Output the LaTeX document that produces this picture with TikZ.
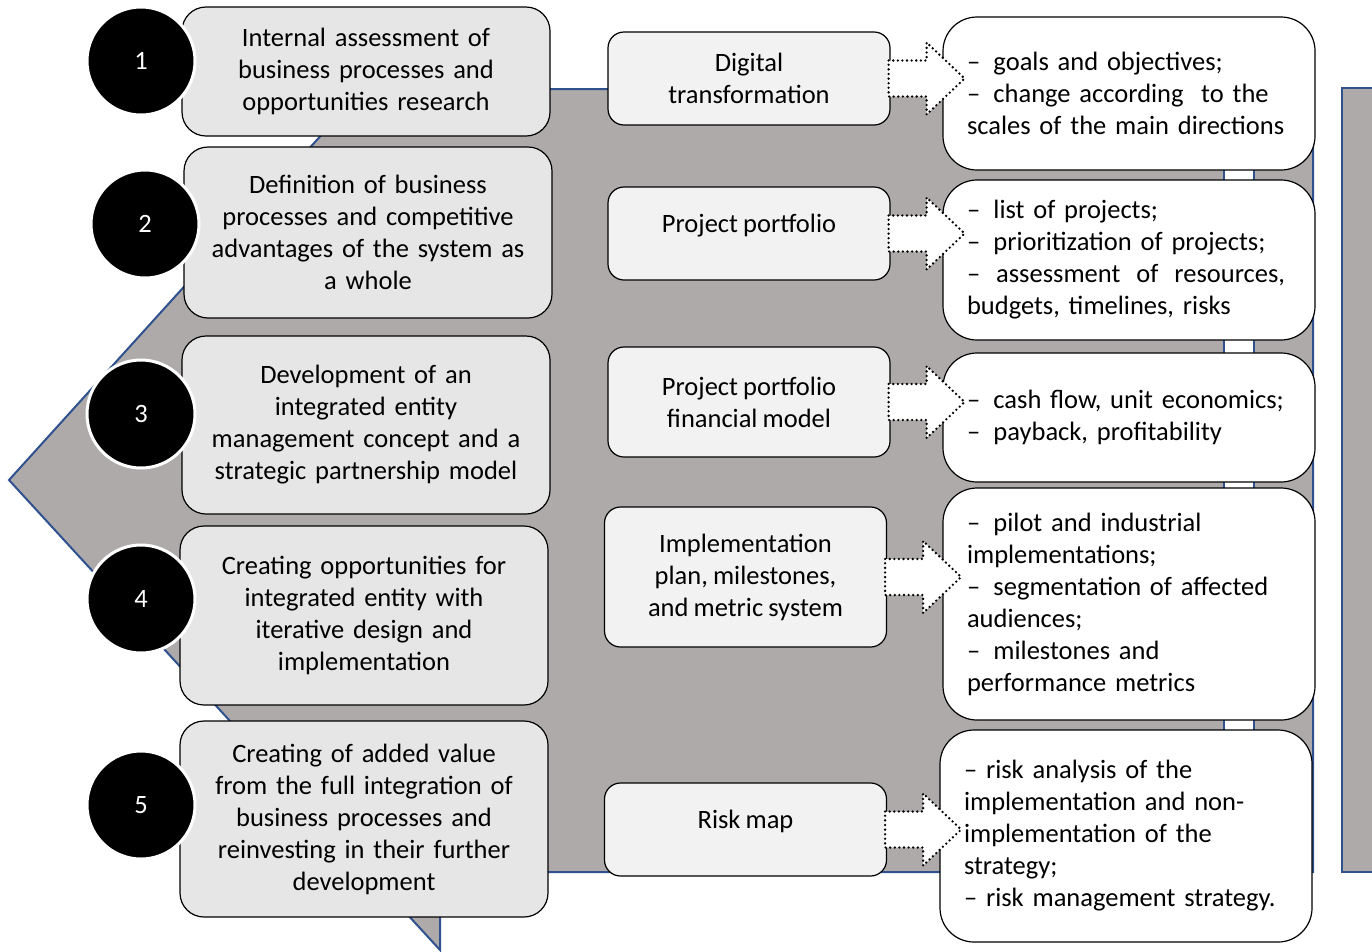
\documentclass[tikz,border=0pt]{standalone}
\usepackage{fontspec}
\setmainfont{Carlito}[WordSpace={0.85,1,2}]
\usetikzlibrary{positioning,calc}
\hyphenpenalty=10000

\definecolor{bggray}{HTML}{AEAAAA}
\definecolor{edgeblue}{HTML}{2F528F}
\definecolor{stagefill}{HTML}{E7E6E6}
\definecolor{toolfill}{HTML}{F2F2F2}

\tikzset{
  stage/.style={draw=black, fill=stagefill, rounded corners=24pt, line width=1.2pt,
    text width=330pt, inner xsep=19pt, inner ysep=0pt, align=center},
  num/.style={circle, fill=black, draw=white, line width=3pt, minimum size=108pt,
    inner sep=0pt, text=white},
  tool/.style={draw=black, fill=toolfill, rounded corners=16pt, line width=1.2pt,
    minimum width=282pt, inner sep=0pt, align=center},
  outcome/.style={draw=black, fill=white, rounded corners=34pt, line width=1.2pt,
    text width=324pt, inner xsep=24pt, inner ysep=0pt, align=left},
  pointer/.style={draw=black, fill=white, line width=2.6pt, line cap=round,
    dash pattern=on 0pt off 4.6pt},
  backdrop/.style={fill=bggray, draw=edgeblue, line width=2pt}
}
\newcommand{\liftup}[1]{\raisebox{0pt}[\height][\dimexpr\depth+16pt]{#1}}

\begin{document}
\begin{tikzpicture}[x=1pt, y=-1pt,
    every node/.style={font=\fontsize{26.5}{32}\selectfont}]
  \clip (0,0) rectangle (1372,951);
  \useasboundingbox (0,0) rectangle (1372,951);

  % Background arrow and bars
  \draw[backdrop] (363,89) -- (1313,89) -- (1313,872) -- (440,872)
    -- (440,950) -- (9,480) -- cycle;
  \draw[backdrop] (1342,88) rectangle (1385,872);
  \draw[fill=white, draw=edgeblue, line width=2pt] (1224,150) rectangle (1254,740);

  % Define nodes
  \node[stage, minimum height=129pt] (s1) at (366,71.5)
    {Internal assessment of\\business processes and\\opportunities research};
  \node[stage, minimum height=171pt] (s2) at (368,232.5)
    {Definition of business\\processes and competitive\\advantages of the system as\\a whole};
  \node[stage, minimum height=178pt] (s3) at (366,425)
    {Development of an\\integrated entity\\management concept and a\\strategic partnership model};
  \node[stage, minimum height=179pt] (s4) at (364,615.5)
    {Creating opportunities for\\integrated entity with\\iterative design and\\implementation};
  \node[stage, minimum height=196pt] (s5) at (364,819)
    {Creating of added value\\from the full integration of\\business processes and\\reinvesting in their further\\development};

  \node[num] (c1) at (141,61) {1};
  \node[num] (c2) at (145,224) {2};
  \node[num] (c3) at (141,414) {3};
  \node[num] (c4) at (141,599) {4};
  \node[num] (c5) at (141,805) {5};

  \node[tool, minimum height=93pt] (m1) at (749,78.5) {Digital\\transformation};
  \node[tool, minimum height=93pt] (m2) at (749,233.5) {\liftup{Project portfolio}};
  \node[tool, minimum height=110pt] (m3) at (749,402) {Project portfolio\\financial model};
  \node[tool, minimum height=140pt] (m4) at (745.5,577) {Implementation\\plan, milestones,\\and metric system};
  \node[tool, minimum height=93pt] (m5) at (745.5,829.5) {\liftup{Risk map}};

  \node[outcome, minimum height=153pt] (r1) at (1129,93.5)
    {–\enspace goals and objectives;\\–\enspace change according\ \ to the\\scales of the main directions};
  \node[outcome, minimum height=160pt] (r2) at (1129,260)
    {–\enspace list of projects;\\–\enspace prioritization of projects;\\
     \makebox[318pt]{–\hfill assessment\hfill of\hfill resources,}\\budgets, timelines, risks};
  \node[outcome, minimum height=129pt] (r3) at (1129,417.5)
    {–\enspace cash flow, unit economics;\\–\enspace payback, profitability};
  \node[outcome, minimum height=232pt] (r4) at (1129,604)
    {–\enspace pilot and industrial\\implementations;\\–\enspace segmentation of affected\\audiences;\\–\enspace milestones and\\performance metrics};
  \node[outcome, minimum height=212pt] (r5) at (1126,836)
    {– risk analysis of the\\implementation and non-\\implementation of the\\strategy;\\– risk management strategy.};

  % Connect nodes
  \foreach \i in {1,...,5}
    \draw[pointer] ($(m\i.east)+(-2,-18)$) -- ++(38,0) -- ++(0,-18) -- ++(38,36)
      -- ++(-38,36) -- ++(0,-18) -- ++(-38,0) -- cycle;
\end{tikzpicture}
\end{document}
